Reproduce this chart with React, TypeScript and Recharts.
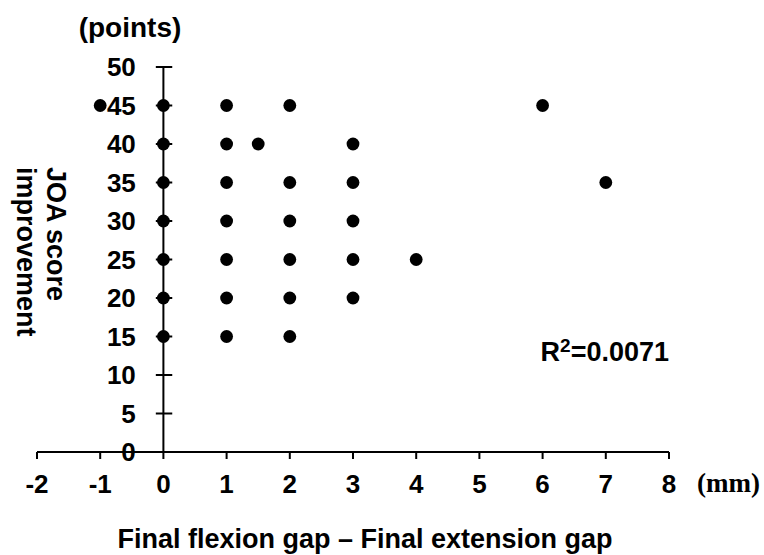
import React from "react";
import {
  ScatterChart,
  Scatter,
  XAxis,
  YAxis,
  ReferenceLine,
  ReferenceDot,
} from "recharts";

const gapValues = [
  -1, 0, 0, 0, 0, 0, 0, 0, 1, 1, 1, 1, 1, 1, 1, 1.5, 2, 2, 2, 2, 2, 2, 3, 3, 3, 3, 3, 4, 6, 7,
];
const joaValues = [
  45, 45, 40, 35, 30, 25, 20, 15, 45, 40, 35, 30, 25, 20, 15, 40, 45, 35, 30, 25, 20, 15, 40, 35, 30, 25, 20, 25, 45, 35,
];
const xTicks = [-2, -1, 0, 1, 2, 3, 4, 5, 6, 7, 8];
const yTicks = [0, 5, 10, 15, 20, 25, 30, 35, 40, 45, 50];
const rSquaredBase = "R";
const rSquaredSup = "2";
const rSquaredRest = "=0.0071";
const rSquaredPos = { x: 8, y: 13 };
const xTitle = "Final flexion gap \u2013 Final extension gap";
const xUnit = "(mm)";
const yUnit = "(points)";
const yTitleLines = ["JOA score", "improvement"];

const points = gapValues.map((g, i) => ({ gap: g, joa: joaValues[i] }));

const FONT = "'Liberation Sans', Arial, sans-serif";
const SERIF = "'Liberation Serif', 'Times New Roman', serif";
const INK = "#000";

const Dot = (p: any) => <circle cx={p.cx} cy={p.cy} r={6.4} fill={INK} />;

const RLabel = (p: any) => {
  const vb = p.viewBox || {};
  return (
    <text
      x={vb.x}
      y={vb.y + 9}
      textAnchor="end"
      fill={INK}
      fontSize={27}
      fontWeight={700}
      fontFamily={FONT}
    >
      {rSquaredBase}
      <tspan fontSize={19} dy={-9}>
        {rSquaredSup}
      </tspan>
      <tspan dy={9}>{rSquaredRest}</tspan>
    </text>
  );
};

export default function App() {
  return (
    <div style={{ position: "absolute", left: 0, top: 0 }}>
      <ScatterChart
        width={764}
        height={555}
        margin={{ top: 67, right: 95, bottom: 0, left: 37 }}
      >
        <XAxis
          type="number"
          dataKey="gap"
          domain={[-2, 8]}
          ticks={xTicks}
          interval={0}
          height={103}
          tickSize={7}
          tickMargin={16}
          axisLine={{ stroke: INK, strokeWidth: 2 }}
          tickLine={{ stroke: INK, strokeWidth: 2 }}
          tick={{ fill: INK, fontSize: 26, fontWeight: 700, fontFamily: FONT }}
        />
        <YAxis type="number" dataKey="joa" domain={[0, 50]} ticks={yTicks} hide />
        <ReferenceLine x={0} stroke={INK} strokeWidth={2} />
        {yTicks.map((v) => (
          <ReferenceLine
            key={v}
            segment={[
              { x: -0.12, y: v },
              { x: 0.14, y: v },
            ]}
            stroke={INK}
            strokeWidth={2}
            label={{
              value: String(v),
              position: "left",
              offset: 20,
              fill: INK,
              fontSize: 26,
              fontWeight: 700,
              fontFamily: FONT,
            }}
          />
        ))}
        <Scatter data={points} fill={INK} shape={Dot} isAnimationActive={false} />
        <ReferenceDot
          x={rSquaredPos.x}
          y={rSquaredPos.y}
          r={0}
          stroke="none"
          fill="none"
          label={<RLabel />}
        />
        <text x={365} y={548} textAnchor="middle" fill={INK} fontSize={27} fontWeight={700} fontFamily={FONT}>
          {xTitle}
        </text>
        <text x={697} y={492} textAnchor="start" fill={INK} fontSize={27} fontWeight={700} fontFamily={SERIF}>
          {xUnit}
        </text>
        <text x={130} y={37} textAnchor="middle" fill={INK} fontSize={28} fontWeight={700} fontFamily={FONT}>
          {yUnit}
        </text>
        <text x={47} y={167} transform="rotate(90, 47, 167)" textAnchor="start" fill={INK} fontSize={27} fontWeight={700} fontFamily={FONT}>
          {yTitleLines[0]}
        </text>
        <text x={17} y={167} transform="rotate(90, 17, 167)" textAnchor="start" fill={INK} fontSize={27} fontWeight={700} fontFamily={FONT}>
          {yTitleLines[1]}
        </text>
      </ScatterChart>
    </div>
  );
}
